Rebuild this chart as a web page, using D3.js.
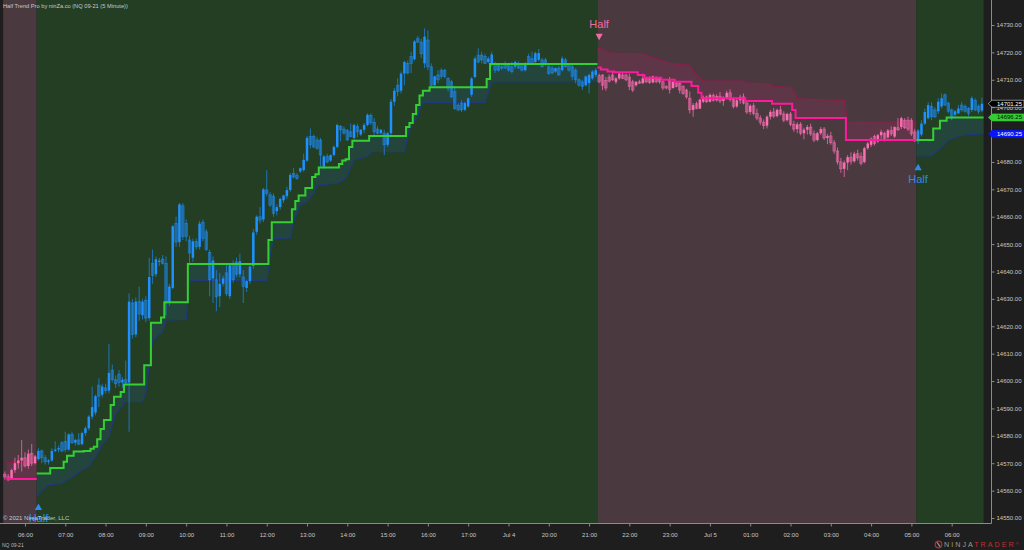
<!DOCTYPE html>
<html><head><meta charset="utf-8">
<script src="https://cdn.jsdelivr.net/npm/d3@7"></script>
<style>
html,body{margin:0;padding:0;background:#1e1e1e;overflow:hidden;}
svg{display:block;font-family:"Liberation Sans",Arial,sans-serif;}
</style></head><body>
<svg id="c" width="1024" height="550"></svg>
<script>
// ---------- DATA ----------
// 5-minute candles: [open, high, low, close]
const candles = [
[14566,14567,14564,14565],[14565,14566,14563.5,14564.5],[14564.5,14568,14564,14567.5],[14567.5,14572,14566.5,14570],
[14570,14573,14568,14571],[14571,14578.5,14567,14572],[14572,14574,14568.5,14569],[14569,14575,14568,14573.5],
[14573.5,14577,14569,14570],[14570,14573,14569.5,14572.5],
[14571.5,14575.5,14571,14574.5],[14574.5,14575,14570,14572],[14572,14573,14569.5,14570.5],[14570.5,14571.5,14569.5,14571],
[14571,14575.5,14570.5,14574.5],[14574.5,14578,14574,14575],[14575,14576.5,14574,14575.5],[14577.5,14578,14574,14574.5],
[14578,14581.5,14574,14575],[14575,14581,14574.5,14580.5],[14580.5,14581.5,14577,14577.5],[14577.5,14579,14576.5,14578.5],
[14578.5,14581,14576.5,14577],[14577,14581.5,14576.5,14581],[14581,14583.5,14580,14582.75],[14582.75,14587.5,14582,14587],
[14587,14598,14586,14590.5],[14588.5,14595,14587.5,14594.5],[14598.5,14601,14590.5,14594.5],[14595,14599,14594,14598],
[14597.5,14599,14595.5,14596.5],[14596.5,14613.5,14595.5,14603],[14604,14606,14599.5,14600.5],[14600.5,14602,14597.5,14599],
[14602.5,14604,14598,14599.5],[14599.5,14601.5,14597.5,14600.5],[14600.5,14607.5,14598.5,14599.5],[14599.5,14632,14581.5,14629],
[14628.5,14630,14615.5,14617],[14617,14630.5,14616,14629],[14629,14634.5,14622,14624.5],[14624,14630,14622.5,14629],
[14629.5,14631,14621.5,14623],[14623,14645,14622,14638],[14643,14648,14635.5,14638.5],[14639,14645.5,14638,14644.5],
[14643.5,14645,14642,14644],[14644.5,14646,14642.5,14643],[14643,14645.5,14624,14628.5],[14629,14635.5,14627.5,14634.5],
[14634,14657,14633.5,14656.5],[14657.5,14660,14649,14650.75],[14650.75,14665,14649,14664.5],[14664,14665,14651.5,14652.75],
[14657.5,14659,14651,14652.75],[14651.5,14653,14643,14646.75],[14645,14652,14643.5,14651],[14651,14652,14648,14649],
[14649,14658.5,14648,14657.5],[14658,14659,14651,14652],[14654.5,14655.5,14647.5,14648],[14647,14648,14631,14637],
[14637.5,14645.5,14628.5,14644],[14637,14640.5,14625.5,14630.75],[14631,14639.5,14627,14635.5],[14635.5,14638.5,14634.5,14637.5],
[14639.5,14643,14631,14632],[14631,14642.5,14630,14642.25],[14643,14644,14636,14637],[14643.5,14645,14638,14639],
[14639,14646.5,14638,14643.75],[14638,14640.5,14628.5,14634.5],[14634,14637,14632.5,14636.5],[14636.5,14642.5,14635.5,14641.75],
[14642,14655.5,14641,14654.25],[14654.5,14660.5,14653.5,14660],[14660,14663.5,14657.5,14658.75],[14659,14670.5,14658,14670],
[14669.75,14677,14667.5,14668.5],[14668,14669,14663.5,14664.25],[14667.5,14668.5,14660,14661.25],[14662,14664.5,14660.5,14663.5],
[14663.5,14667,14662.5,14666.5],[14666,14668,14665,14667.75],[14667.5,14671,14666.5,14669.75],[14669.75,14676,14669,14675.25],
[14675.75,14677.75,14674,14674.5],[14675,14676,14673.5,14674],[14676.5,14678,14676,14677.75],[14677,14683,14676.5,14680.75],
[14680.5,14689.5,14680,14688.75],[14689.25,14692.25,14685,14686.25],[14689.25,14690,14685,14685.5],[14688,14689,14684.5,14685],
[14688,14688.75,14678.25,14682.5],[14678.25,14682.5,14677.5,14682],[14682,14683,14679.5,14680],[14680.5,14682.75,14680,14682.5],
[14682.5,14686,14682,14685.5],[14685.5,14694,14685,14693.5],[14693,14693.5,14687.5,14691.75],[14692,14693,14690,14690.5],
[14691.5,14692,14687.75,14688],[14691,14694,14689,14689.25],[14688.75,14694,14688,14693.5],[14693,14694,14689,14691],
[14690,14692,14689.5,14691.75],[14691.75,14694.25,14690.5,14693.5],[14693.5,14697.75,14693,14697.25],[14697,14697.75,14693.5,14694.25],
[14694.5,14696,14689.75,14691],[14692,14693,14690,14690.5],[14690.5,14692,14690,14691.75],[14690.5,14691.75,14682.5,14686.25],
[14686.25,14691,14685.5,14690.5],[14690.5,14703,14689,14702],[14702,14707,14700.5,14706],[14708,14710.5,14704,14705.75],
[14706,14713,14705,14712.25],[14712.25,14717,14708,14716.5],[14716,14717,14712,14712.5],[14718.5,14720.25,14712.5,14716],
[14717.5,14724.5,14717,14724],[14725,14726,14723.5,14723.75],[14723.75,14725,14718,14719.5],[14716,14728.75,14714.25,14725.75],
[14724.5,14728,14713.5,14714.75],[14714.75,14716,14707.5,14708],[14708,14711.5,14707.5,14711.25],[14711.75,14713.5,14708.75,14710],
[14713.5,14714.25,14710.25,14711.25],[14713.5,14714,14710.5,14711.25],[14710.5,14711,14705.75,14707],[14709.25,14710,14703.25,14703.75],
[14705.75,14707.5,14699,14699.5],[14700.75,14701.5,14698.5,14699],[14701.5,14702.5,14698.25,14699],[14699,14702,14698.5,14701.5],
[14700.25,14703.5,14699.75,14703.25],[14704.5,14711,14703.75,14710.5],[14711,14718.5,14710.5,14717.75],[14719,14721.5,14716,14716.5],
[14719,14720.25,14716,14717.25],[14718.5,14719.5,14715.75,14716],[14716.5,14718.5,14716,14717.75],[14715.75,14720.25,14714.75,14719.25],
[14716,14716.5,14712.5,14713.5],[14715.5,14716,14713,14713.5],[14714.75,14715.5,14713.5,14714.25],[14716,14716.75,14714,14714.25],
[14715.5,14716.25,14713,14713.5],[14714.75,14716.5,14712.25,14713],[14714.75,14717,14714,14716.5],[14716,14716.75,14714,14714.25],
[14715.5,14716,14713,14713.5],[14713.5,14716.5,14713,14716],[14718.5,14719.5,14715.5,14716],[14717.75,14720.25,14715.5,14716],
[14716.5,14720.25,14716,14719.75],[14717.25,14721.25,14716.75,14719.75],[14717.25,14718,14714.5,14714.75],[14717.25,14718,14715,14715.5],
[14714.75,14716,14711.75,14712.25],[14714.25,14715,14712,14712.5],[14713,14714.5,14712.5,14714.25],[14714.25,14715,14711.5,14711.75],
[14713.5,14718.5,14713,14717.75],[14717.25,14718,14714.5,14714.75],[14715.5,14716,14713,14713.5],[14714.75,14716,14710,14711.25],
[14713.5,14714.25,14708.75,14710],[14710,14710.5,14707.5,14708],[14709.25,14710,14706.25,14707.5],[14708,14711.5,14707.5,14711.25],
[14708.75,14712.25,14705,14711.75],[14710.5,14713.5,14710,14713],[14711.75,14714.25,14711,14713.5],
[14711.5,14712.25,14708.75,14709.25],[14711.75,14712,14706.25,14708],[14709.75,14711,14706,14707],[14711,14712,14709,14709.5],
[14711.75,14713,14709.5,14710],[14709.25,14711,14708.5,14710.5],[14710.5,14712.75,14710,14712.25],[14711.75,14712.5,14710.25,14710.5],
[14711.75,14712.25,14709.5,14710],[14711,14712.25,14706.25,14707.5],[14709.25,14710,14705.5,14706.25],[14708,14709.5,14707.5,14709.25],
[14709.25,14710,14708.5,14708.75],[14708.75,14712.25,14708.5,14710.5],[14710.5,14711,14708.75,14709.25],[14710.5,14711.25,14708.5,14709],
[14709,14711.5,14708.75,14711.25],[14710.5,14711.25,14708.75,14709.25],[14710.5,14711,14708.5,14709.25],[14709.25,14709.75,14706.25,14707],
[14707.5,14708,14706.5,14707],[14710,14711,14705,14706.5],[14707,14709.5,14706.75,14709.25],[14708.75,14709.25,14707.25,14707.5],
[14708.75,14709.25,14705,14706.25],[14707.5,14708,14704.5,14705],[14706.25,14706.75,14703,14703.75],[14703.25,14705.75,14697.75,14699],
[14699,14701.5,14696.5,14700.75],[14701.25,14702,14699.25,14699.5],[14699.5,14703,14699.25,14702.75],[14702,14704.25,14701.5,14703.75],
[14703.75,14704.25,14701.5,14702],[14702,14705,14701.75,14704.5],[14704.25,14705,14702,14702.5],[14702.5,14704.75,14702,14704],
[14704,14705.5,14701.5,14702.25],[14702.25,14704,14700.5,14703.5],[14703.5,14706,14702.75,14705.25],[14705.25,14706.5,14702,14702.75],
[14702.75,14703.5,14699.5,14700.25],[14700.25,14703.25,14699.75,14702.5],[14702.5,14704.5,14701.25,14703.75],[14703.75,14705,14701,14701.5],
[14701.5,14702.25,14697.5,14698.25],[14698.25,14701,14697.25,14700.5],[14700.5,14701.5,14697,14697.75],[14697.75,14699.5,14695.25,14696],
[14696,14697,14693.5,14694.5],[14694.5,14695.5,14692,14693.25],[14693.25,14697,14692.25,14696.5],[14696.5,14699,14695.5,14698.25],
[14698.25,14699.75,14696,14696.75],[14696.75,14699.5,14696.25,14699],[14699,14700.5,14697,14697.5],[14697.5,14698.5,14694.5,14695.25],
[14695.25,14698,14694.75,14697.5],[14697.5,14698.25,14693,14693.75],[14693.75,14695,14691,14692],[14692,14694.5,14690.5,14693.75],
[14693.75,14694.5,14689.75,14690.5],[14690.5,14692.5,14688.25,14691.75],[14691.75,14693.5,14690,14692.75],[14692.75,14694,14689.5,14690.25],
[14690.25,14691.5,14687.25,14688],[14688,14691,14687.5,14690.5],[14690.5,14692.75,14689.75,14692],[14692,14692.75,14688,14688.75],
[14688.75,14690.25,14686.5,14689.5],[14689.5,14691,14686.25,14687],[14687,14688,14683,14684],[14684,14685.25,14679,14680],
[14680,14681.5,14676,14677.5],[14677.5,14680.5,14674.5,14679.75],[14679.75,14682.5,14677,14681.75],[14681.75,14683.5,14679,14680.25],
[14680.25,14683.75,14679.75,14683],[14683,14684.5,14680.5,14681.5],[14682,14683.5,14678.75,14679.5],[14680,14685.5,14679.5,14685],
[14685,14687.25,14684.5,14686.75],[14686.25,14689,14685.5,14688.5],[14689.25,14690,14686,14686.75],[14687.5,14690.25,14687,14689.75],
[14689.75,14691.75,14688.5,14691],[14690.5,14691,14687.5,14688],[14689,14692,14688.5,14691.5],[14691.5,14693,14689.5,14690.25],
[14689.25,14693,14688.75,14692.75],[14692.5,14696,14691.25,14691.75],[14692.75,14696.5,14692,14696],[14695.25,14696,14692,14692.5],
[14695.25,14696.5,14691.25,14692],[14695.25,14696,14689.5,14690.25],[14691,14692,14687.25,14688],
[14687.5,14692,14686.5,14691.5],[14690,14695.25,14689.25,14694],[14694,14699.5,14693.5,14698.25],[14696,14701.75,14695.5,14700.75],
[14700.25,14701.75,14695.25,14696.5],[14699,14700,14696,14696.5],[14698.5,14703.25,14697.5,14702],[14700.25,14705,14699.5,14703.25],
[14704.5,14705,14700.5,14700.75],[14701.5,14702,14697.75,14698.5],[14699,14699.5,14695.25,14696],[14697.25,14699,14696.5,14698.5],
[14697.75,14700.75,14697.5,14699.5],[14700.75,14702,14698.25,14699],[14700.25,14701,14698,14698.5],[14699.5,14700,14696.75,14697.75],
[14699,14704,14698.25,14703.25],[14702.5,14703.25,14698.5,14699],[14700.25,14701,14697.5,14698.5],[14698.75,14703.5,14698.25,14701.25]
];

// Half Trend line: [first bar of step, level]
const trendDownA = [[1,14564.25]];
const trendUpB = [[10,14566.25],[14,14568.25],[18,14570.5],[19,14572.75],[21,14574.25],[24,14574.5],[26,14575.25],[27,14576],
  [28,14578.75],[29,14582.5],[30,14585.75],[32,14591.25],[33,14594.25],[35,14596],[36,14598.75],[42,14605.75],[44,14621.25],
  [47,14623.25],[48,14628.75],[55,14642.75],[79,14651.5],[80,14658],[86,14662.75],[87,14665.75],[88,14667.75],[90,14670.5],
  [92,14674.5],[93,14675.5],[94,14678],[100,14679.25],[101,14680.5],[102,14681],[103,14685.5],[104,14687.75],[109,14689.5],
  [120,14692.75],[121,14694.25],[122,14697.5],[123,14700.75],[124,14704.25],[125,14706],[127,14707.25],[144,14710.25],[145,14715.75]];
const trendDownC = [[177,14714.5],[178,14713.75],[180,14713],[182,14712.75],[189,14711.75],[191,14710.75],[196,14710],[200,14709.25],
  [205,14707.75],[207,14705.25],[208,14703.25],[221,14702.25],[229,14701.25],[235,14699],[236,14696],[251,14688]];
const trendUpD = [[272,14688],[277,14692.25],[279,14695],[281,14696.25]];

// ATR band edge: [bar, level]
const bandDownA = [[1,14570.25],[9,14570.25]];
const bandUpB = [[10,14558.25],[11,14560.25],[13,14562],[17,14562.75],[20,14565],[23,14567.5],[25,14568.75],[27,14572.5],
  [29,14576.75],[31,14579.75],[33,14588.25],[36,14592.5],[41,14592.5],[42,14596],[44,14615],[47,14618],[48,14622.25],[54,14622.5],
  [55,14636.75],[78,14636.75],[79,14646],[80,14652],[85,14652.25],[86,14658.25],[87,14661.25],[88,14664.25],[90,14665.5],
  [92,14668.5],[93,14671.5],[99,14672.25],[101,14673.5],[102,14675.25],[104,14680.75],[108,14682],[109,14683.75],[119,14683.75],
  [120,14689.25],[121,14693.5],[123,14696.5],[124,14700.75],[125,14701.75],[143,14701.75],[145,14709.25],[176,14709.25]];
const bandDownC = [[177,14721.5],[178,14721],[180,14719.75],[190,14719.5],[198,14716],[204,14715.25],[205,14713],[208,14709.5],
  [220,14709.5],[221,14708.75],[228,14708.5],[229,14707.5],[234,14707.25],[235,14705.5],[236,14703],[250,14702.5],[251,14694.75],[271,14694.5]];
const bandUpD = [[272,14682.25],[276,14682.25],[279,14685.5],[281,14688],[285,14689.75],[291,14690.25]];

const regimes = [
  {from:0, to:9, dir:-1, trend:trendDownA, band:bandDownA},
  {from:10, to:176, dir:1, trend:trendUpB, band:bandUpB},
  {from:177, to:271, dir:-1, trend:trendDownC, band:bandDownC},
  {from:272, to:291, dir:1, trend:trendUpD, band:bandUpD}
];

const halfSignals = [{bar:10, dir:1, band:14558.25},{bar:177, dir:-1, band:14721.5},{bar:272, dir:1, band:14682.25}];

const priceTicks = [14550,14560,14570,14580,14590,14600,14610,14620,14630,14640,14650,14660,14670,14680,14690,14700,14710,14720,14730];
const timeLabels = ["06:00","07:00","08:00","09:00","10:00","11:00","12:00","13:00","14:00","15:00","16:00","17:00",
  "Jul 4","20:00","21:00","22:00","23:00","Jul 5","01:00","02:00","03:00","04:00","05:00","06:00"];
const timeTickBars = [6,18,30,42,54,66,78,90,102,114,126,138,150,162,174,186,198,210,222,234,246,258,270,282];

const priceFlags = [
  {v:14701.25, fill:"#000000", stroke:"#d8d8d8", text:"#ffffff"},
  {v:14696.25, fill:"#33cc33", stroke:"#33cc33", text:"#0a0a0a"},
  {v:14690.25, fill:"#0a14ff", stroke:"#0a14ff", text:"#ffffff"}
];

// ---------- DRAW ----------
const W = 1024, H = 550;
const svg = d3.select("#c");
const x = d3.scaleLinear().domain([0, 291]).range([4.855, 981.9]);
const y = d3.scaleLinear().domain([14550, 14730]).range([518, 25]);
const plotBottom = 523.5, axisX = 991.5;

svg.append("rect").attr("width", W).attr("height", H).attr("fill", "#1e1e1e");

const regimeOf = i => regimes.find(r => i >= r.from && i <= r.to);

// backgrounds
svg.append("g").selectAll("rect").data(regimes).join("rect")
  .attr("x", r => x(r.from - 0.5)).attr("y", 0)
  .attr("width", r => x(r.to + 0.5) - x(r.from - 0.5)).attr("height", plotBottom)
  .attr("fill", r => r.dir > 0 ? "#233e23" : "#4a3a40");

const stepLine = d3.line().curve(d3.curveStepAfter);
const linLine = d3.line();

function trendPts(r) {
  const pts = r.trend.map(([b, v]) => [x(b - 0.5), y(v)]);
  pts.push([x(r.to + 0.5), y(r.trend[r.trend.length - 1][1])]);
  return pts;
}
function bandPts(r) {
  const pts = r.band.map(([b, v]) => [x(b), y(v)]);
  pts.unshift([x(r.trend[0][0] - 0.5), y(r.band[0][1])]);
  pts.push([x(r.to + 0.5), y(r.band[r.band.length - 1][1])]);
  return pts;
}

// band fills
const gBand = svg.append("g");
regimes.forEach(r => {
  const tp = trendPts(r), bp = bandPts(r);
  const d = stepLine(tp) + "L" + linLine(bp.slice().reverse()).slice(1) + "Z";
  gBand.append("path").attr("d", d)
    .attr("fill", r.dir > 0 ? "rgba(40,85,115,0.32)" : "rgba(160,40,95,0.24)");
  gBand.append("path").attr("d", linLine(bp)).attr("fill", "none")
    .attr("stroke", r.dir > 0 ? "#1d3a7c" : "#8a1f48").attr("stroke-width", 1.2);
});

// candles
const bw = 2.5;
const gC = svg.append("g");
candles.forEach((c, i) => {
  const [o, h, l, cl] = c;
  const up = cl >= o;
  const bull = regimeOf(i).dir > 0;
  const base = bull ? "30,144,255" : "250,110,178";
  const cx = x(i);
  gC.append("line").attr("x1", cx).attr("x2", cx).attr("y1", y(h)).attr("y2", y(l))
    .attr("stroke", `rgba(${base},${bull ? 0.65 : 0.75})`).attr("stroke-width", 1);
  const top = y(Math.max(o, cl)), bot = y(Math.min(o, cl));
  gC.append("rect").attr("x", cx - bw / 2).attr("width", bw)
    .attr("y", top).attr("height", Math.max(1, bot - top))
    .attr("fill", up ? `rgb(${base})` : `rgba(${base},0.32)`)
    .attr("stroke", up ? "none" : `rgba(${base},0.7)`).attr("stroke-width", 0.7);
});

// trend lines
regimes.forEach(r => {
  svg.append("path").attr("d", stepLine(trendPts(r))).attr("fill", "none")
    .attr("stroke", r.dir > 0 ? "#35cf35" : "#ff1a9c").attr("stroke-width", 2);
});
svg.append("rect").attr("x", x(1) - 1.5).attr("y", y(14564.25) - 1.5).attr("width", 3).attr("height", 3).attr("fill", "#ff1a9c");

// Half signals
halfSignals.forEach(s => {
  const cx = x(s.bar);
  const col = s.dir > 0 ? "#2f8be6" : "#f06aa6";
  const yb = y(s.band);
  if (s.dir > 0) {
    const t = yb + 8;
    svg.append("path").attr("d", `M${cx},${t}L${cx + 3.6},${t + 6.5}L${cx - 3.6},${t + 6.5}Z`).attr("fill", col);
    svg.append("text").attr("x", cx).attr("y", t + 19).attr("text-anchor", "middle")
      .attr("font-size", 11).attr("fill", col).text("Half");
  } else {
    const b = yb - 8;
    svg.append("path").attr("d", `M${cx},${b}L${cx + 3.6},${b - 6.5}L${cx - 3.6},${b - 6.5}Z`).attr("fill", col);
    svg.append("text").attr("x", cx).attr("y", b - 12).attr("text-anchor", "middle")
      .attr("font-size", 11).attr("fill", col).text("Half");
  }
});

// axes frame
svg.append("line").attr("x1", 0).attr("x2", axisX).attr("y1", plotBottom).attr("y2", plotBottom).attr("stroke", "#8a8a8a").attr("stroke-width", 1);
svg.append("line").attr("x1", axisX).attr("x2", axisX).attr("y1", 0).attr("y2", plotBottom).attr("stroke", "#8a8a8a").attr("stroke-width", 1);

const yAxis = svg.append("g").attr("transform", `translate(${axisX},0)`)
  .call(d3.axisRight(y).tickValues(priceTicks).tickSize(3).tickPadding(2).tickFormat(d3.format(".2f")));
yAxis.select(".domain").remove();
yAxis.selectAll("line").attr("stroke", "#8a8a8a");
yAxis.selectAll("text").attr("fill", "#c8c8c8").attr("font-size", 6).attr("font-family", "Liberation Sans, Arial, sans-serif");

const xAxis = svg.append("g").attr("transform", `translate(0,${plotBottom})`)
  .call(d3.axisBottom(x).tickValues(timeTickBars).tickSize(3).tickPadding(6).tickFormat((d, i) => timeLabels[i]));
xAxis.select(".domain").remove();
xAxis.selectAll("line").attr("stroke", "#8a8a8a");
xAxis.selectAll("text").attr("fill", "#c8c8c8").attr("font-size", 6).attr("font-family", "Liberation Sans, Arial, sans-serif");

// price flags
priceFlags.forEach(f => {
  const cy = y(f.v);
  svg.append("path").attr("d", `M988.3,${cy}L992,${cy - 3.5}L1024,${cy - 3.5}L1024,${cy + 3.5}L992,${cy + 3.5}Z`)
    .attr("fill", f.fill).attr("stroke", f.stroke).attr("stroke-width", 0.6);
  svg.append("text").attr("x", 997).attr("y", cy).attr("dy", "0.34em").attr("font-size", 6)
    .attr("fill", f.text).text(f.v.toFixed(2));
});

// texts
svg.append("text").attr("x", 3).attr("y", 8).attr("font-size", 5.7).attr("fill", "#c8c8c8")
  .text("Half Trend Pro by ninZa.co (NQ 09-21 (5 Minute))");
svg.append("text").attr("x", 3).attr("y", 520).attr("font-size", 6).attr("fill", "rgba(225,225,225,0.85)")
  .text("© 2021 NinjaTrader, LLC");
svg.append("text").attr("x", 2).attr("y", 547).attr("font-size", 5).attr("fill", "#b8b8b8").text("NQ 09-21");

// NinjaTrader logo
const lg = svg.append("g").attr("transform", "translate(938.5,544.5)");
lg.append("circle").attr("r", 3.3).attr("fill", "none").attr("stroke", "#b03030").attr("stroke-width", 1.2);
lg.append("path").attr("d", "M-1.4,-2.2L1.6,2.2").attr("stroke", "#9a9a9a").attr("stroke-width", 1.2);
const lt = svg.append("text").attr("x", 944).attr("y", 547.4).attr("font-size", 7.2).attr("letter-spacing", 2);
lt.append("tspan").attr("fill", "#9a9a9a").text("NINJA");
lt.append("tspan").attr("fill", "#c0302f").text("TRADER");
lt.append("tspan").attr("fill", "#c0302f").attr("font-size", 4).attr("dy", -2).attr("letter-spacing", 0).text("®");
</script>
</body></html>
